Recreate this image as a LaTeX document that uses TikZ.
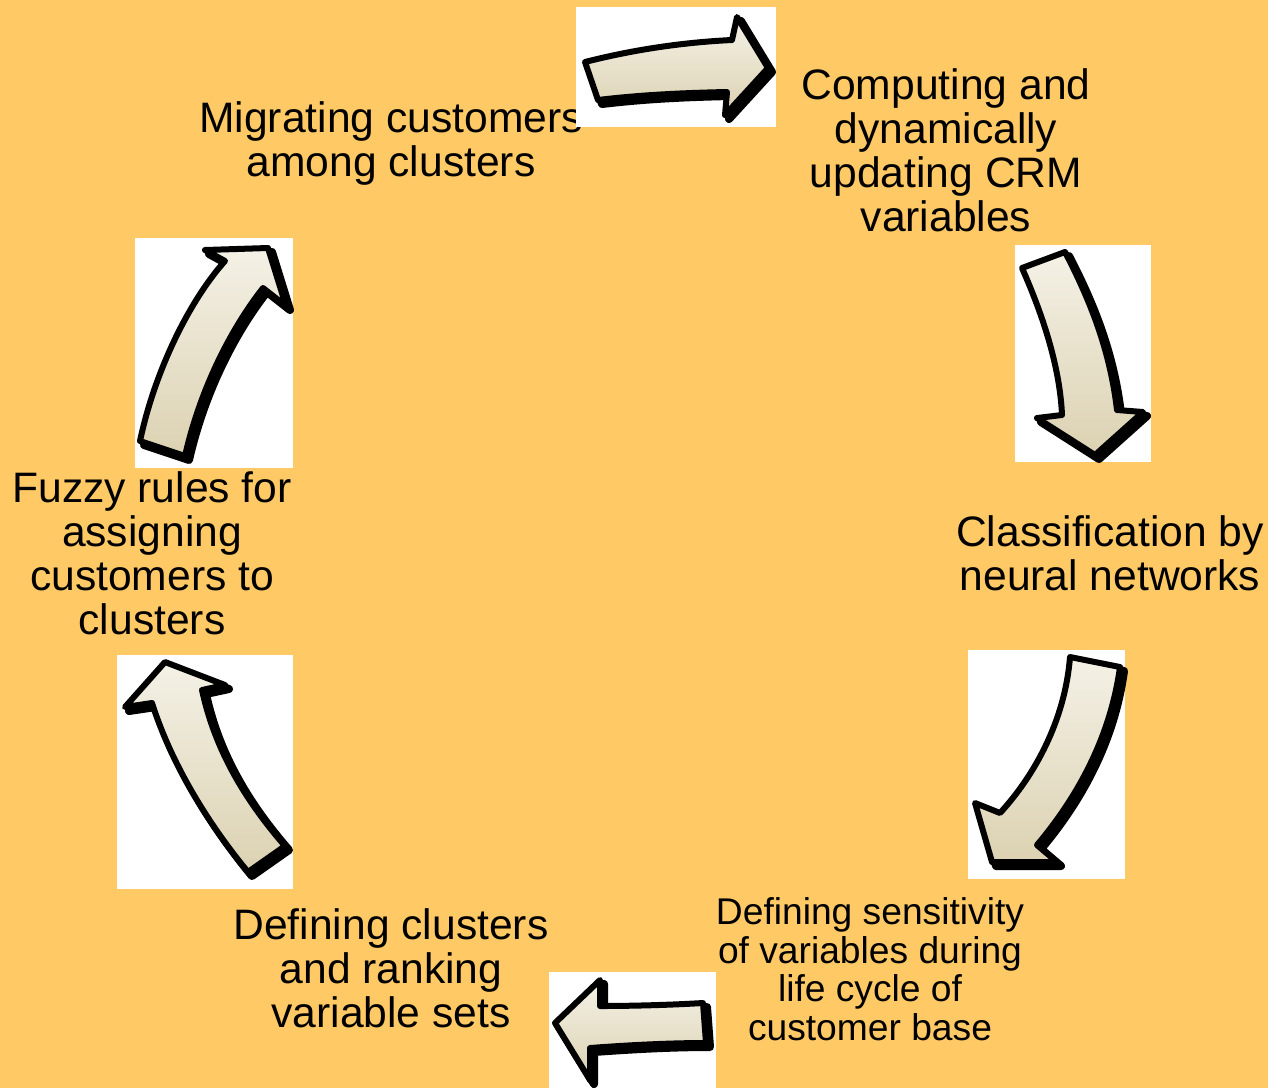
\documentclass[tikz,border=0pt]{standalone}
\usepackage{fontspec}
\setmainfont{Liberation Sans}
\definecolor{bgorange}{RGB}{255,202,102}
\definecolor{arrtop}{RGB}{244,241,230}
\definecolor{arrbot}{RGB}{220,210,178}
\tikzset{
  lbl/.style={font=\fontsize{21.3}{22}\selectfont, align=center, text=black, inner sep=0pt},
  lblsmall/.style={font=\fontsize{18.6}{19.3}\selectfont, align=center, text=black, inner sep=0pt},
  whitebox/.style={fill=white, draw=none},
  arrowshadow/.style={fill=black, draw=black, line width=4pt, line join=round},
  arrowbody/.style={draw=black, line width=3pt, line join=round, top color=arrtop, bottom color=arrbot}
}
\newcommand\shadedarrow[1]{%
  \filldraw[arrowshadow, shift={(4,4)}] #1;
  \draw[arrowbody] #1;}
\begin{document}
\begin{tikzpicture}[x=0.5pt, y=-0.5pt]
\useasboundingbox (0,0) rectangle (1268,1088);
\fill[bgorange] (0,0) rectangle (1268,1088);

% labels
\node[lbl] (migr) at (391,143) {Migrating customers\\among clusters};
\node[lbl] (comp) at (946,150) {Computing and\\dynamically\\updating CRM\\variables};
\node[lbl] (class) at (1110,553) {Classification by\\neural networks};
\node[lblsmall] (sens) at (870,969) {Defining sensitivity\\of variables during\\life cycle of\\customer base};
\node[lbl] (defc) at (391,968) {Defining clusters\\and ranking\\variable sets};
\node[lbl] (fuzzy) at (152,553) {Fuzzy rules for\\assigning\\customers to\\clusters};

% white boxes behind arrows
\fill[whitebox] (576,7) rectangle (776,127);
\fill[whitebox] (1015,245) rectangle (1151,462);
\fill[whitebox] (968,650) rectangle (1125,879);
\fill[whitebox] (549,972) rectangle (716,1088);
\fill[whitebox] (117,655) rectangle (293,889);
\fill[whitebox] (135,238) rectangle (293,468);

% arrows
\shadedarrow{(585,62) .. controls (640,48) and (690,42) .. (732,40) -- (737,17) -- (768,68) -- (725,115) -- (727,92) .. controls (680,93) and (640,95) .. (598,100) -- cycle}
\shadedarrow{(1022,268) .. controls (1045,320) and (1060,370) .. (1062,415) -- (1037,418) -- (1095,455) -- (1143,412) -- (1117,410) .. controls (1110,350) and (1090,300) .. (1065,252) -- cycle}
\shadedarrow{(1070,657) .. controls (1065,720) and (1035,775) .. (1000,813) -- (975,803) -- (992,862) -- (1057,862) -- (1037,845) .. controls (1075,800) and (1110,740) .. (1120,667) -- cycle}
\shadedarrow{(703,1003) .. controls (670,1005) and (630,1006) .. (600,1006) -- (600,980) -- (555,1023) -- (590,1080) -- (590,1048) .. controls (630,1045) and (670,1043) .. (706,1043) -- cycle}
\shadedarrow{(165,662) -- (225,685) -- (202,690) .. controls (215,750) and (245,800) .. (285,846) -- (248,872) .. controls (205,820) and (170,760) .. (152,703) -- (125,707) -- cycle}
\shadedarrow{(268,248) -- (286,306) -- (263,288) .. controls (230,330) and (200,390) .. (185,456) -- (140,441) .. controls (155,370) and (190,300) .. (225,261) -- (205,250) -- cycle}
\end{tikzpicture}
\end{document}
